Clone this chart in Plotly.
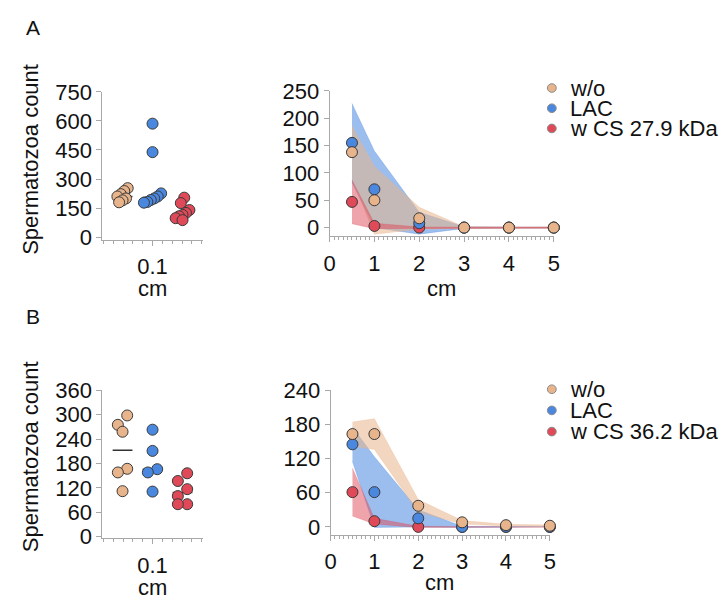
import numpy as np
import plotly.graph_objects as go

W, H = 725, 611

# ---------------- data ----------------
legend_A = ["w/o", "LAC", "w CS 27.9 kDa"]
legend_B = ["w/o", "LAC", "w CS 36.2 kDa"]

# Panel A, left: counts at 0.1 cm
A_left_wo = [253, 238, 222, 210, 200, 190, 180]
A_left_lac = [586, 439, 226, 210, 200, 192, 182, 178]
A_left_cs = [204, 176, 140, 125, 115, 108, 98, 88]

# Panel B, left: counts at 0.1 cm
B_left_wo = [298, 275, 258, 167, 158, 112]
B_left_lac = [263, 211, 166, 158, 111]
B_left_cs = [156, 137, 117, 100, 80, 80]

# distance profiles (mean and SD)
distances = [0.5, 1, 2, 3, 4, 5]
A_wo_mean = [138, 50, 17, 0, 0, 0]
A_wo_sd = [48, 62, 20, 1.5, 1, 1]
A_lac_mean = [155, 70, 8, 0, 0, 0]
A_lac_sd = [72, 70, 20, 1.5, 1, 1]
A_cs_mean = [47, 3, 0, 0, 0, 0]
A_cs_sd = [40, 5, 1, 1, 1, 1]

B_wo_mean = [163, 163, 37, 8, 3, 2]
B_wo_sd = [21, 27, 11, 3, 1.5, 1.5]
B_lac_mean = [145, 61, 15, 0, 0, 0]
B_lac_sd = [30, 62, 15, 1, 0.5, 0.5]
B_cs_mean = [61, 10, 0, 0, 0, 0]
B_cs_sd = [42, 5, 1, 0.5, 0.5, 0.5]

left_ticks_A = [0, 150, 300, 450, 600, 750]
left_ticks_B = [0, 60, 120, 180, 240, 300, 360]
right_ticks_A = [0, 50, 100, 150, 200, 250]
right_ticks_B = [0, 60, 120, 180, 240]
x_ticks = [0, 1, 2, 3, 4, 5]

# ---------------- styles ----------------
ORANGE = "#E8B48C"
BLUE = "#4A88E0"
RED = "#E04A58"
FILLS = ["rgba(232,180,140,0.55)", "rgba(74,136,224,0.55)", "rgba(224,74,88,0.5)"]
COLORS = [ORANGE, BLUE, RED]
AXC = "#A8A8A8"
FONT = "Liberation Sans, Arial, Helvetica, sans-serif"
FS = 22
XPX = 30.5  # pixels per category unit on left panels


def px_x(p):
    return p / W


def px_y(p):
    return 1 - p / H


def row_swarm(vals, px_per_unit, thresh_px, spacing_px):
    vals = np.asarray(vals, float)
    order = np.argsort(-vals, kind="stable")
    rows = []
    for i in order:
        if rows and (vals[rows[-1][0]] - vals[i]) * px_per_unit < thresh_px:
            rows[-1].append(i)
        else:
            rows.append([i])
    offs = np.zeros(len(vals))
    for r in rows:
        r = r[::-1]  # smaller values on the left
        m = len(r)
        for j, i in enumerate(r):
            offs[i] = (j - (m - 1) / 2) * spacing_px / XPX
    return offs


fig = go.Figure()


def add_left(xa, ya, sets, px_per_unit, thresh, spacing):
    for gi, (vals, col) in enumerate(zip(sets, COLORS)):
        g = gi - 1
        med = float(np.median(vals))
        fig.add_trace(go.Scatter(x=[g - 0.33, g + 0.33], y=[med, med], mode="lines",
                                 line=dict(color="#333333", width=1.5),
                                 xaxis=xa, yaxis=ya, showlegend=False, hoverinfo="skip"))
    for gi, (vals, col) in enumerate(zip(sets, COLORS)):
        g = gi - 1
        offs = row_swarm(vals, px_per_unit, thresh, spacing)
        fig.add_trace(go.Scatter(x=g + offs, y=vals, mode="markers",
                                 marker=dict(size=11, color=col, line=dict(color="#3a3a3a", width=1)),
                                 xaxis=xa, yaxis=ya, showlegend=False, cliponaxis=False))


def add_right(xa, ya, means, sds):
    d = np.asarray(distances, float)
    for k in [1, 0, 2]:
        m = np.asarray(means[k], float)
        s = np.asarray(sds[k], float)
        up = m + s
        lo = m - s
        fig.add_trace(go.Scatter(x=np.concatenate([d, d[::-1]]), y=np.concatenate([up, lo[::-1]]),
                                 fill="toself", fillcolor=FILLS[k], mode="lines",
                                 line=dict(color=FILLS[k], width=0.5),
                                 xaxis=xa, yaxis=ya, showlegend=False, hoverinfo="skip"))
    for k in [2, 1, 0]:
        fig.add_trace(go.Scatter(x=d, y=means[k], mode="markers",
                                 marker=dict(size=11, color=COLORS[k], line=dict(color="#3a3a3a", width=1)),
                                 xaxis=xa, yaxis=ya, showlegend=False, cliponaxis=False))


add_left("x", "y", [A_left_wo, A_left_lac, A_left_cs], 151 / 750, 10, 3.5)
add_right("x2", "y2", [A_wo_mean, A_lac_mean, A_cs_mean], [A_wo_sd, A_lac_sd, A_cs_sd])
add_left("x3", "y3", [B_left_wo, B_left_lac, B_left_cs], 152.3 / 360, 10.5, 9.5)
add_right("x4", "y4", [B_wo_mean, B_lac_mean, B_cs_mean], [B_wo_sd, B_lac_sd, B_cs_sd])

common = dict(showgrid=False, zeroline=False, showline=True, linecolor=AXC, linewidth=1,
              ticks="outside", ticklen=5, tickcolor=AXC, tickwidth=1,
              tickfont=dict(family=FONT, size=FS, color="#111111"))

half = 51 / XPX
left_x = dict(common, range=[-half, half], tickvals=[0], ticktext=["0.1"], ticklabelstandoff=2,
              minor=dict(ticks="outside", ticklen=3, tickcolor=AXC, tick0=0, dtick=10 / XPX))
right_x = dict(common, range=[0, 5], tickvals=x_ticks, ticklabelstandoff=2,
               minor=dict(ticks="outside", ticklen=3, tickcolor=AXC, tick0=0, dtick=0.1))

fig.update_layout(
    width=W, height=H, margin=dict(l=0, r=0, t=0, b=0),
    paper_bgcolor="white", plot_bgcolor="white", showlegend=False,
    xaxis=dict(left_x, domain=[px_x(98), px_x(200)], anchor="y"),
    yaxis=dict(common, domain=[px_y(237), px_y(83)], range=[-15, 750], tickvals=left_ticks_A, anchor="x"),
    xaxis2=dict(right_x, domain=[px_x(329), px_x(557)], anchor="y2"),
    yaxis2=dict(common, domain=[px_y(233), px_y(82)], range=[-15.8, 250], tickvals=right_ticks_A, anchor="x2"),
    xaxis3=dict(left_x, domain=[px_x(98), px_x(200)], anchor="y3"),
    yaxis3=dict(common, domain=[px_y(547), px_y(393)], range=[-4, 360], tickvals=left_ticks_B, anchor="x3"),
    xaxis4=dict(right_x, domain=[px_x(330), px_x(553)], anchor="y4"),
    yaxis4=dict(common, domain=[px_y(543), px_y(393)], range=[-13.5, 240], tickvals=right_ticks_B, anchor="x4"),
)

ann = []
shapes = []


def text(x, y, s, size=FS, angle=0, xanchor="center"):
    ann.append(dict(x=px_x(x), y=px_y(y), xref="paper", yref="paper", text=s, showarrow=False,
                    xanchor=xanchor, yanchor="middle", textangle=angle,
                    font=dict(family=FONT, size=size, color="#111111")))


text(27, 16, "A", size=21)
text(27, 316, "B", size=21)
text(25, 153, "Spermatozoa count", angle=-90)
text(25, 462, "Spermatozoa count", angle=-90)
text(149, 287, "cm")
text(443, 287, "cm")
text(149, 598, "cm")
text(441, 593, "cm")


def legend(ys, labels):
    for yy, lab, col in zip(ys, labels, COLORS):
        shapes.append(dict(type="circle", xref="paper", yref="paper",
                           x0=px_x(555 - 4.5), x1=px_x(555 + 4.5), y0=px_y(yy + 4.5), y1=px_y(yy - 4.5),
                           fillcolor=col, line=dict(color="#8a8a8a", width=1)))
        text(571, yy, lab, xanchor="left")


legend([79, 100, 121], legend_A)
legend([392, 414, 436], legend_B)

fig.update_layout(annotations=ann, shapes=shapes)
fig.write_html("out.html")
